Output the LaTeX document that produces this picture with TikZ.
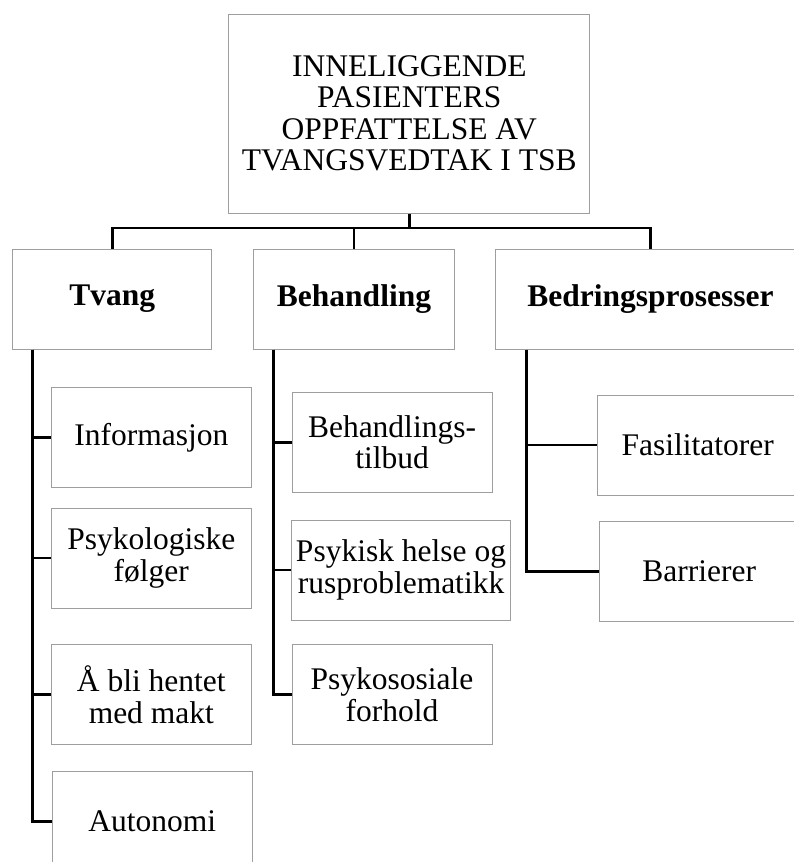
\documentclass[tikz,border=0pt]{standalone}
\usepackage{fontspec}
\setmainfont{Liberation Serif}

\begin{document}
\begin{tikzpicture}[
    x=1pt,y=-1pt,
    box/.style={rectangle,draw=black!38,line width=1pt,fill=white,align=center,inner sep=0pt,font=\fontsize{31.5}{31.5}\selectfont},
    topic/.style={box,minimum width=361pt,minimum height=199pt},
    theme/.style={box,minimum height=100pt,font=\fontsize{31.5}{31.5}\selectfont\bfseries},
    subtheme/.style={box,minimum width=200pt,minimum height=100pt},
    link/.style={line width=2.7pt}
  ]
    \useasboundingbox (0,0) rectangle (794,862);

    \node[topic] (root) at (409.3,113.5) {INNELIGGENDE\\PASIENTERS\\OPPFATTELSE AV\\TVANGSVEDTAK I TSB};
    \coordinate (hub) at (409.3,228);

    \node[theme,minimum width=199.3pt] (tvang) at (112.3,299) {Tvang};
    \node[theme,minimum width=200.6pt] (behandling) at (354,299) {Behandling};
    \node[theme,minimum width=309.6pt] (bedring) at (650.5,299) {Bedringsprosesser};

    \node[subtheme] (info) at (151.3,437.7) {Informasjon};
    \node[subtheme] (folger) at (151.3,558) {Psykologiske\\følger};
    \node[subtheme] (hentet) at (151.3,694.7) {Å bli hentet\\med makt};
    \node[subtheme] (autonomi) at (152.3,821.7) {Autonomi};

    \node[subtheme] (tilbud) at (392,442.2) {Behandlings-\\tilbud};
    \node[subtheme,minimum width=218.6pt] (helse) at (401,570) {Psykisk helse og\\rusproblematikk};
    \node[subtheme] (sosial) at (392,694.7) {Psykososiale\\forhold};

    \node[subtheme] (fasil) at (697.7,445) {Fasilitatorer};
    \node[subtheme] (barriere) at (699.3,571.7) {Barrierer};

    \draw[link] (root.south) -- (hub);
    \draw[link] (tvang.north) |- (hub) -| (bedring.north);
    \draw[link] (behandling.north) |- (hub);

    \draw[link] ([xshift=20.3pt]tvang.south west) |- (info.west);
    \draw[link] ([xshift=20.3pt]tvang.south west) |- (folger.west);
    \draw[link] ([xshift=20.3pt]tvang.south west) |- (hentet.west);
    \draw[link] ([xshift=20.3pt]tvang.south west) |- (autonomi.west);

    \draw[link] ([xshift=20.6pt]behandling.south west) |- (tilbud.west);
    \draw[link] ([xshift=20.6pt]behandling.south west) |- (helse.west);
    \draw[link] ([xshift=20.6pt]behandling.south west) |- (sosial.west);

    \draw[link] ([xshift=31pt]bedring.south west) |- (fasil.west);
    \draw[link] ([xshift=31pt]bedring.south west) |- (barriere.west);
  \end{tikzpicture}
\end{document}
